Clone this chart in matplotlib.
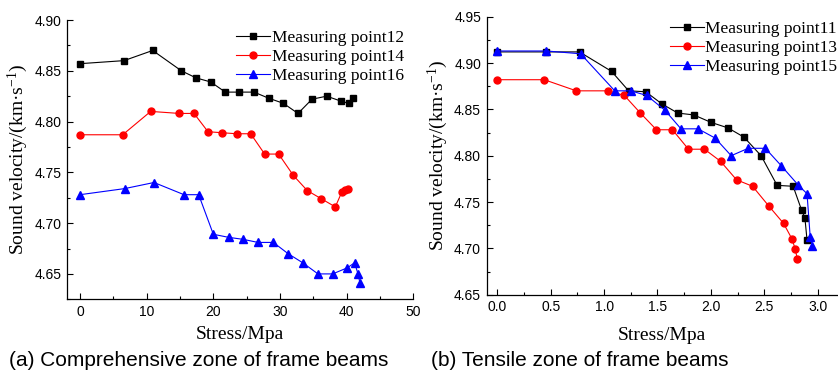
import matplotlib
matplotlib.use("Agg")
import matplotlib.pyplot as plt
from matplotlib.ticker import MultipleLocator, FormatStrFormatter

plt.rcParams['mathtext.fontset'] = 'custom'
plt.rcParams['mathtext.rm'] = 'Liberation Serif'
plt.rcParams['mathtext.it'] = 'Liberation Serif:italic'

# ---- (a) Comprehensive zone ----
a_x12 = [0, 6.6, 10.9, 15.2, 17.4, 19.6, 21.8, 23.9, 26.1, 28.3, 30.5, 32.7, 34.8, 37.0, 39.2, 40.3, 40.9]
a_y12 = [4.857, 4.860, 4.870, 4.850, 4.843, 4.839, 4.829, 4.829, 4.829, 4.823, 4.818, 4.808, 4.822, 4.825, 4.820, 4.818, 4.823]

a_x14 = [0, 6.4, 10.6, 14.9, 17.1, 19.2, 21.3, 23.5, 25.6, 27.7, 29.8, 32.0, 34.1, 36.2, 38.3, 39.3, 39.8, 40.2]
a_y14 = [4.787, 4.787, 4.810, 4.808, 4.808, 4.790, 4.789, 4.788, 4.788, 4.768, 4.768, 4.747, 4.732, 4.724, 4.716, 4.731, 4.733, 4.734]

a_x16 = [0, 6.7, 11.1, 15.6, 17.8, 20.0, 22.3, 24.5, 26.7, 29.0, 31.2, 33.4, 35.7, 37.9, 40.1, 41.2, 41.7, 42.0]
a_y16 = [4.728, 4.734, 4.740, 4.728, 4.728, 4.689, 4.686, 4.684, 4.681, 4.681, 4.670, 4.661, 4.650, 4.650, 4.656, 4.661, 4.650, 4.641]

# ---- (b) Tensile zone ----
b_x11 = [0, 0.46, 0.77, 1.07, 1.23, 1.39, 1.54, 1.69, 1.84, 2.00, 2.16, 2.31, 2.47, 2.62, 2.77, 2.85, 2.88, 2.90]
b_y11 = [4.912, 4.912, 4.912, 4.891, 4.870, 4.869, 4.856, 4.846, 4.844, 4.836, 4.830, 4.820, 4.800, 4.768, 4.767, 4.741, 4.733, 4.709]

b_x13 = [0, 0.44, 0.74, 1.04, 1.19, 1.34, 1.49, 1.64, 1.79, 1.94, 2.09, 2.24, 2.39, 2.54, 2.68, 2.76, 2.79, 2.81]
b_y13 = [4.882, 4.882, 4.870, 4.870, 4.865, 4.846, 4.828, 4.828, 4.807, 4.807, 4.794, 4.774, 4.767, 4.746, 4.727, 4.710, 4.699, 4.688]

b_x15 = [0, 0.46, 0.78, 1.10, 1.25, 1.40, 1.57, 1.72, 1.88, 2.04, 2.19, 2.35, 2.51, 2.66, 2.82, 2.90, 2.93, 2.95]
b_y15 = [4.913, 4.913, 4.910, 4.870, 4.870, 4.865, 4.849, 4.829, 4.829, 4.819, 4.800, 4.808, 4.808, 4.789, 4.768, 4.759, 4.712, 4.703]

W, H = 838, 372
fig = plt.figure(figsize=(W / 100, H / 100), dpi=100)

serif = 'Liberation Serif'
sans = 'Liberation Sans'
xlab = 'Stress/Mpa'
ylab = 'Sound velocity/(km·s$^{-1}$)'


def px_axes(l, t, r, b):
    return fig.add_axes([l / W, 1 - b / H, (r - l) / W, (b - t) / H])


def style(ax):
    for s in ['top', 'right']:
        ax.spines[s].set_visible(False)
    for s in ['left', 'bottom']:
        ax.spines[s].set_linewidth(0.9)
    ax.tick_params(which='major', direction='in', length=4.5, width=0.8,
                   labelsize=10, pad=4)
    ax.tick_params(which='minor', direction='in', length=2.5, width=0.8)
    for lab in ax.get_xticklabels() + ax.get_yticklabels():
        lab.set_fontfamily(sans)


leg_kw = dict(loc='upper left', bbox_transform=fig.transFigure, frameon=False,
              borderpad=0, borderaxespad=0, handlelength=1.95,
              handletextpad=0.1, labelspacing=0.15,
              prop={'family': serif, 'size': 12.5})

ax1 = px_axes(66.7, 20, 413.3, 299.3)
ax1.plot(a_x12, a_y12, color='black', lw=0.8, marker='s', ms=4.6, label='Measuring point12')
ax1.plot(a_x14, a_y14, color='red', lw=0.8, marker='o', ms=5, label='Measuring point14')
ax1.plot(a_x16, a_y16, color='blue', lw=0.8, marker='^', ms=5.5, label='Measuring point16')
ax1.set_xlim(-2, 50)
ax1.set_ylim(4.625, 4.90)
ax1.xaxis.set_major_locator(MultipleLocator(10))
ax1.xaxis.set_minor_locator(MultipleLocator(5))
ax1.yaxis.set_major_locator(MultipleLocator(0.05))
ax1.yaxis.set_minor_locator(MultipleLocator(0.025))
ax1.yaxis.set_major_formatter(FormatStrFormatter('%.2f'))
style(ax1)
ax1.set_xlabel(xlab, fontfamily=serif, fontsize=14, labelpad=5)
ax1.set_ylabel(ylab, fontfamily=serif, fontsize=14, labelpad=3)
ax1.legend(bbox_to_anchor=(236 / W, 1 - 30 / H), **leg_kw)

ax2 = px_axes(486.6, 16.7, 838, 294.7)
ax2.plot(b_x11, b_y11, color='black', lw=0.8, marker='s', ms=4.6, label='Measuring point11')
ax2.plot(b_x13, b_y13, color='red', lw=0.8, marker='o', ms=5, label='Measuring point13')
ax2.plot(b_x15, b_y15, color='blue', lw=0.8, marker='^', ms=5.5, label='Measuring point15')
ax2.set_xlim(-0.1, 3.19)
ax2.set_ylim(4.65, 4.95)
ax2.xaxis.set_major_locator(MultipleLocator(0.5))
ax2.xaxis.set_minor_locator(MultipleLocator(0.25))
ax2.xaxis.set_major_formatter(FormatStrFormatter('%.1f'))
ax2.yaxis.set_major_locator(MultipleLocator(0.05))
ax2.yaxis.set_minor_locator(MultipleLocator(0.025))
ax2.yaxis.set_major_formatter(FormatStrFormatter('%.2f'))
style(ax2)
ax2.set_xlabel(xlab, fontfamily=serif, fontsize=14, labelpad=9)
ax2.set_ylabel(ylab, fontfamily=serif, fontsize=14, labelpad=3)
ax2.legend(bbox_to_anchor=(669.7 / W, 1 - 21 / H), **leg_kw)

fig.text(9 / W, 1 - 361 / H, '(a) Comprehensive zone of frame beams',
         fontfamily=sans, fontsize=15, va='center', ha='left')
fig.text(431 / W, 1 - 361 / H, '(b) Tensile zone of frame beams',
         fontfamily=sans, fontsize=15, va='center', ha='left')

fig.savefig('out.png', dpi=100)
